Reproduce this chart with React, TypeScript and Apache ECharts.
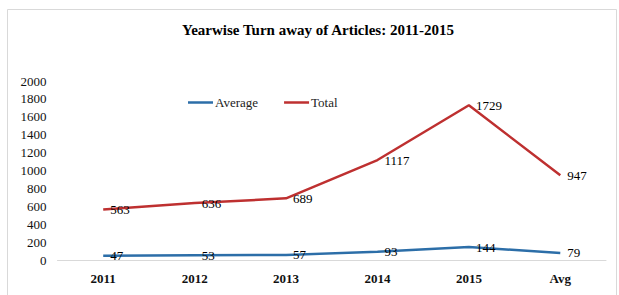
import React, { useEffect, useRef } from "react";
import * as echarts from "echarts";

const categories = ["2011", "2012", "2013", "2014", "2015", "Avg"];
const averageValues = [47, 53, 57, 93, 144, 79];
const totalValues = [563, 636, 689, 1117, 1729, 947];
const titleText = "Yearwise Turn away of Articles: 2011-2015";

const FONT = "'Liberation Serif', 'Times New Roman', serif";

export default function App() {
  const ref = useRef<HTMLDivElement>(null);
  useEffect(() => {
    if (!ref.current) return;
    const chart = echarts.init(ref.current, undefined, { renderer: "svg" });
    const labelCfg = {
      show: true,
      position: "right" as const,
      distance: 7,
      fontSize: 13,
      fontFamily: FONT,
      color: "#000",
    };
    chart.setOption({
      animation: false,
      backgroundColor: "#fff",
      title: {
        text: titleText,
        left: 177,
        top: 17,
        textStyle: { fontSize: 15, fontWeight: "bold", fontFamily: FONT, color: "#000" },
      },
      graphic: [
        {
          type: "rect",
          shape: { x: 7.5, y: 9.5, width: 609, height: 300 },
          style: { fill: "none", stroke: "#d9d9d9", lineWidth: 1 },
          silent: true,
        },
      ],
      legend: {
        left: 183,
        top: 91,
        icon: "rect",
        itemWidth: 25,
        itemHeight: 2.5,
        itemGap: 26,
        textStyle: { fontSize: 13, fontFamily: FONT, color: "#222", padding: [0, 0, 0, -3] },
        data: ["Average", "Total"],
      },
      grid: { left: 57.5, right: 13, top: 81, bottom: 35, containLabel: false },
      xAxis: {
        type: "category",
        data: categories,
        boundaryGap: true,
        axisLine: { lineStyle: { color: "#d9d9d9", width: 1 } },
        axisTick: { show: false },
        axisLabel: { fontSize: 13, fontWeight: "bold", fontFamily: FONT, color: "#111", margin: 12 },
      },
      yAxis: {
        type: "value",
        min: 0,
        max: 2000,
        interval: 200,
        axisLine: { show: false },
        axisTick: { show: false },
        splitLine: { show: false },
        axisLabel: {
          fontSize: 13,
          fontFamily: FONT,
          color: "#111",
          margin: 11,
          formatter: (v: number) => String(v),
        },
      },
      series: [
        {
          name: "Average",
          type: "line",
          data: averageValues,
          symbol: "circle",
          symbolSize: 0,
          showSymbol: true,
          lineStyle: { color: "#2c6ea8", width: 2.5 },
          itemStyle: { color: "#2c6ea8" },
          label: labelCfg,
        },
        {
          name: "Total",
          type: "line",
          data: totalValues,
          symbol: "circle",
          symbolSize: 0,
          showSymbol: true,
          lineStyle: { color: "#be3030", width: 2.5 },
          itemStyle: { color: "#be3030" },
          label: labelCfg,
        },
      ],
    });
    return () => chart.dispose();
  }, []);
  return (
    <div
      ref={ref}
      style={{ position: "fixed", left: 0, top: 0, width: 619, height: 295, background: "#fff" }}
    />
  );
}
